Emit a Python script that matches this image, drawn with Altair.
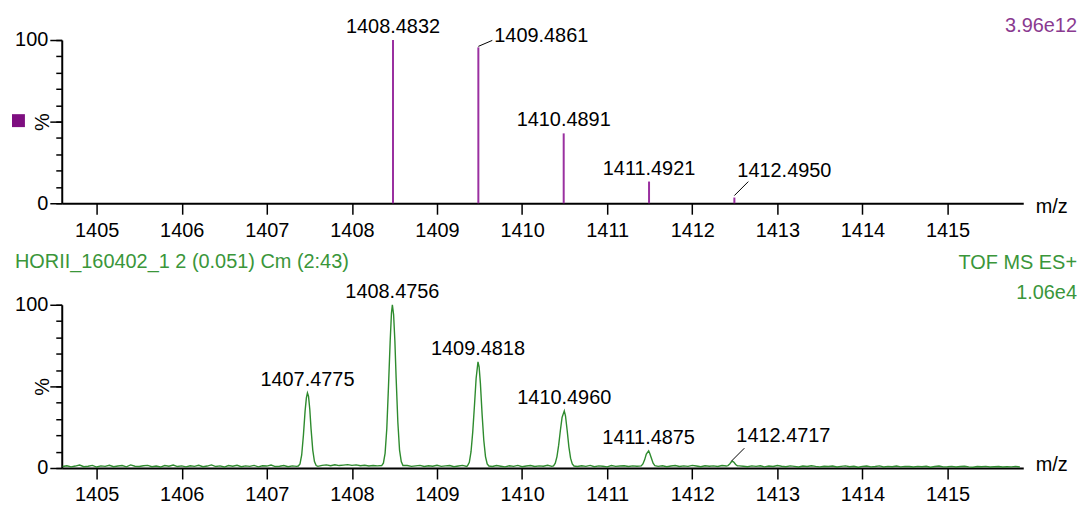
import altair as alt
import pandas as pd

FONT = "Liberation Sans"
PURPLE = "#9A30A0"
PURPLE_DARK = "#7E0E80"
PURPLE_TEXT = "#8A3A90"
GREEN = "#2E8B2E"
GREEN_TEXT = "#3A963A"

# ---------------- data ----------------
X_TICKS = [1405, 1406, 1407, 1408, 1409, 1410, 1411, 1412, 1413, 1414, 1415]
X_DOMAIN = [1404.59, 1415.89]

# top: theoretical isotope sticks
STICK_MZ = [1408.4832, 1409.4861, 1410.4891, 1411.4921, 1412.4950]
STICK_PCT = [100.0, 95.5, 42.8, 13.3, 3.5]

# bottom: labelled centroids of the measured profile
PEAK_LABEL_MZ = [1407.4775, 1408.4756, 1409.4818, 1410.4960, 1411.4875, 1412.4717]
PEAK_LABEL_PCT = [46.0, 100.0, 65.0, 35.0, 10.5, 4.2]

# bottom: measured profile, peak regions
PEAK1_MZ = [1407.37, 1407.39, 1407.41, 1407.43, 1407.45, 1407.465, 1407.4775, 1407.49, 1407.505, 1407.52, 1407.54, 1407.56, 1407.58, 1407.60]
PEAK1_PCT = [1.2, 2.5, 8.0, 20.0, 35.0, 43.0, 46.0, 44.0, 36.0, 24.0, 11.0, 4.0, 1.5, 1.0]
PEAK2_MZ = [1408.35, 1408.37, 1408.39, 1408.41, 1408.43, 1408.45, 1408.465, 1408.4756, 1408.49, 1408.505, 1408.52, 1408.54, 1408.56, 1408.58, 1408.60]
PEAK2_PCT = [1.5, 3.0, 9.0, 24.0, 50.0, 78.0, 95.0, 100.0, 94.0, 78.0, 55.0, 28.0, 11.0, 4.0, 1.5]
PEAK3_MZ = [1409.36, 1409.38, 1409.40, 1409.42, 1409.44, 1409.46, 1409.4818, 1409.495, 1409.51, 1409.53, 1409.55, 1409.57, 1409.59, 1409.61]
PEAK3_PCT = [1.5, 3.5, 10.0, 22.0, 38.0, 55.0, 65.0, 62.0, 52.0, 33.0, 17.0, 7.0, 2.5, 1.2]
PEAK4_MZ = [1410.37, 1410.39, 1410.41, 1410.43, 1410.45, 1410.47, 1410.496, 1410.51, 1410.53, 1410.55, 1410.57, 1410.59, 1410.61]
PEAK4_PCT = [1.3, 3.0, 7.0, 14.0, 23.0, 31.0, 35.0, 32.0, 23.0, 13.0, 6.0, 2.5, 1.2]
PEAK5_MZ = [1411.40, 1411.42, 1411.44, 1411.46, 1411.4875, 1411.50, 1411.52, 1411.54, 1411.56]
PEAK5_PCT = [1.3, 2.5, 5.0, 8.5, 10.5, 9.0, 6.0, 3.0, 1.5]
PEAK6_MZ = [1412.42, 1412.44, 1412.46, 1412.4717, 1412.49, 1412.51, 1412.53]
PEAK6_PCT = [1.5, 2.5, 3.8, 4.2, 3.5, 2.2, 1.3]

# bottom: baseline noise, one reading every 0.05 m/z from 1404.60
BASELINE_START = 1404.60
BASELINE_STEP = 0.05
BASELINE_PCT = [
    0.9, 1.4, 0.7, 1.2, 1.8, 0.8, 1.1, 1.6, 0.6, 1.3, 1.0, 1.7, 0.8, 1.2, 1.5, 0.7, 1.9, 1.1, 0.9, 1.4,
    1.6, 0.8, 1.2, 0.6, 1.5, 1.1, 1.8, 0.9, 1.3, 0.7, 1.4, 1.0, 1.7, 0.8, 1.2, 1.9, 0.9, 1.3, 0.6, 1.5,
    1.1, 1.7, 0.8, 1.3, 1.0, 1.6, 0.7, 1.4, 1.2, 1.8, 0.9, 1.1, 1.5, 0.8, 1.3, 1.0, 1.2, 1.0, 1.4, 1.1,
    1.3, 1.6, 1.9, 1.4, 2.0, 1.5, 1.8, 2.1, 1.6, 1.9, 1.4, 1.7, 1.2, 1.5, 1.3, 1.6, 1.2, 1.1, 1.3, 1.0,
    1.2, 1.5, 1.0, 1.3, 1.6, 0.9, 1.4, 1.1, 1.7, 1.0, 1.3, 1.5, 0.8, 1.2, 1.6, 1.0, 1.3, 0.9, 1.4, 1.1,
    1.3, 0.9, 1.5, 1.1, 0.7, 1.4, 1.0, 1.6, 0.8, 1.2, 1.5, 0.9, 1.3, 1.1, 1.7, 1.0, 1.2, 0.8, 1.4, 1.1,
    1.2, 0.9, 1.4, 1.0, 1.6, 0.8, 1.3, 1.1, 0.7, 1.5, 1.0, 1.2, 1.4, 0.9, 1.3, 1.1, 1.0, 1.2, 1.1, 1.3,
    1.0, 1.4, 0.8, 1.2, 1.5, 0.9, 1.3, 1.0, 1.6, 1.2, 0.8, 1.4, 1.1, 1.3, 0.9, 1.5, 1.2, 1.0, 1.1, 1.3,
    1.1, 0.8, 1.3, 1.0, 1.4, 0.7, 1.2, 0.9, 1.5, 1.1, 0.8, 1.3, 1.0, 0.6, 1.2, 0.9, 1.4, 1.0, 0.7, 1.1,
    0.9, 1.2, 0.6, 1.0, 1.3, 0.8, 1.1, 0.5, 1.0, 1.2, 0.7, 0.9, 1.3, 0.6, 1.0, 0.8, 1.2, 0.7, 1.0, 0.9,
    0.6, 1.0, 0.8, 1.1, 0.5, 0.9, 1.2, 0.7, 0.8, 1.0, 0.6, 0.9, 1.1, 0.7, 0.5, 0.9, 0.8, 1.0, 0.6, 0.8,
    0.9, 0.6, 0.8, 0.7, 1.0, 0.6,
]

# ---------------- tables ----------------
peaks = [(PEAK1_MZ, PEAK1_PCT), (PEAK2_MZ, PEAK2_PCT), (PEAK3_MZ, PEAK3_PCT),
         (PEAK4_MZ, PEAK4_PCT), (PEAK5_MZ, PEAK5_PCT), (PEAK6_MZ, PEAK6_PCT)]
windows = [(min(m), max(m)) for m, _ in peaks]
rows = []
for i, p in enumerate(BASELINE_PCT):
    m = round(BASELINE_START + i * BASELINE_STEP, 3)
    if not any(lo <= m <= hi for lo, hi in windows):
        rows.append((m, p))
for m_list, p_list in peaks:
    rows += list(zip(m_list, p_list))
rows.sort()
profile_df = pd.DataFrame(rows, columns=["mz", "pct"])
stick_df = pd.DataFrame({"mz": STICK_MZ, "pct": STICK_PCT})
label_df = pd.DataFrame({"mz": PEAK_LABEL_MZ, "pct": PEAK_LABEL_PCT})

# ---------------- styling helpers ----------------
W, H = 966, 164
XS = alt.Scale(domain=X_DOMAIN, nice=False, zero=False)
YS = alt.Scale(domain=[0, 100], nice=False)


def x_enc(title_y):
    return alt.X("mz:Q", scale=XS, axis=alt.Axis(
        values=X_TICKS, format="d", title="m/z", titleX=978, titleY=title_y,
        titleAlign="left", titleBaseline="middle", titleAngle=0, titleFont=FONT,
        titleFontSize=20, titleFontWeight="normal", titleColor="black",
        labelFont=FONT, labelFontSize=20, labelColor="black", labelPadding=6,
        labelFlush=False, labelOverlap=False, tickSize=11, tickWidth=1.5,
        tickColor="black", domainColor="black", domainWidth=2, grid=False))


MINOR_Y = alt.Axis(values=list(range(0, 101, 10)), labels=False, tickSize=6,
                   tickWidth=1.5, tickColor="black", domainColor="black",
                   domainWidth=2, grid=False, title=None, orient="left")
MAJOR_Y = alt.Axis(values=[0, 50, 100], labelExpr="datum.value == 50 ? '' : datum.label",
                   tickSize=12, tickWidth=1.5, tickColor="black", domain=False,
                   grid=False, labelFont=FONT, labelFontSize=20, labelColor="black",
                   labelPadding=2, labelOverlap=False, labelFlush=False,
                   title="%", titleX=-19, titleY=82, titleAngle=270,
                   titleAlign="center", titleBaseline="middle", titleFont=FONT,
                   titleFontSize=20, titleFontWeight="normal", titleColor="black",
                   orient="left")


def y_minor():
    return alt.Y("pct:Q", scale=YS, axis=MINOR_Y)


def y_major():
    return alt.Y("pct:Q", scale=YS, axis=MAJOR_Y)


def y_none():
    return alt.Y("pct:Q", scale=YS, axis=None)


def label_layers(df, xe, plain, leaders):
    out = [alt.Chart(df[df.mz.isin(plain)]).mark_text(
        font=FONT, fontSize=20, color="black", align="center", baseline="middle", dy=-13
    ).encode(x=xe, y=y_major(), text=alt.Text("mz:Q", format=".4f"))]
    for mz, (tdx, tdy, ax0, ay0, ax1, ay1) in leaders.items():
        sub = df[df.mz == mz]
        out.append(alt.Chart(sub).mark_text(
            font=FONT, fontSize=20, color="black", align="left", baseline="middle",
            dx=tdx, dy=tdy).encode(x=xe, y=y_none(), text=alt.Text("mz:Q", format=".4f")))
        out.append(alt.Chart(sub).mark_rule(
            color="black", strokeWidth=1, xOffset=ax0, yOffset=ay0,
            x2Offset=ax1, y2Offset=ay1).encode(
            x=xe, x2="mz:Q", y=y_none(), y2="pct:Q"))
    return out


def note(text, x, y, color, align):
    return alt.Chart(pd.DataFrame({"t": [text]})).mark_text(
        font=FONT, fontSize=20, color=color, align=align, baseline="middle"
    ).encode(x=alt.value(x), y=alt.value(y), text="t:N")


# ---------------- top panel ----------------
xt = x_enc(3)
sticks = alt.Chart(stick_df).mark_rule(color=PURPLE, strokeWidth=2).encode(
    x=xt, y=y_minor(), y2=alt.datum(0))
square = alt.Chart(pd.DataFrame({"s": ["■"]})).mark_square(
    size=169, color=PURPLE_DARK, opacity=1).encode(x=alt.value(-43.5), y=alt.value(81))
top = alt.layer(
    sticks,
    *label_layers(stick_df, xt, [1408.4832, 1410.4891, 1411.4921],
                  {1409.4861: (16, -11, 0, -1, 14, -7),
                   1412.4950: (3, -27, 0, -2, 14, -16)}),
    square,
    note("3.96e12", 1020, -14, PURPLE_TEXT, "right"),
).resolve_axis(y="independent").properties(width=W, height=H)

# ---------------- bottom panel ----------------
xb = x_enc(-4)
trace = alt.Chart(profile_df).mark_line(color=GREEN, strokeWidth=1.4).encode(
    x=xb, y=y_minor())
bottom = alt.layer(
    trace,
    *label_layers(label_df, xb, [1407.4775, 1408.4756, 1409.4818, 1410.4960, 1411.4875],
                  {1412.4717: (4, -25, -1, 0, 12, -13)}),
    note("HORII_160402_1 2 (0.051) Cm (2:43)", -47, -43, GREEN_TEXT, "left"),
    note("TOF MS ES+", 1020, -41.5, GREEN_TEXT, "right"),
    note("1.06e4", 1020, -11.5, GREEN_TEXT, "right"),
).resolve_axis(y="independent").properties(width=W, height=H)

chart = alt.vconcat(top, bottom, spacing=102, bounds="flush").properties(
    padding={"left": 4, "top": 7, "right": 0, "bottom": 0}
).configure_view(stroke=None)

chart.save("out.html", embed_options={"renderer": "svg", "actions": False})
